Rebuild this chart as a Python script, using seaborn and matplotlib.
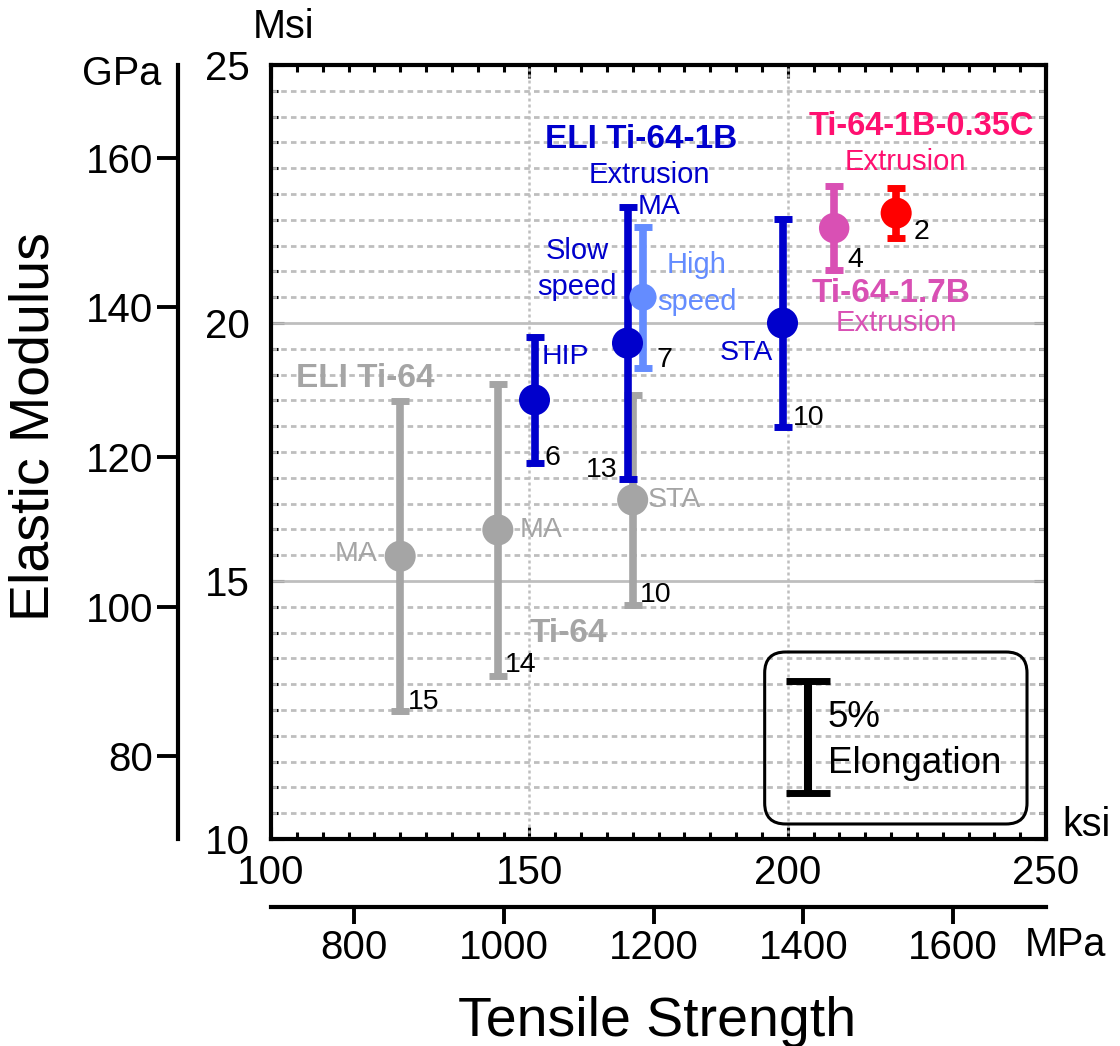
import numpy as np
import pandas as pd
import matplotlib
matplotlib.use("Agg")
import matplotlib.pyplot as plt
import seaborn as sns
from matplotlib.ticker import MultipleLocator, FixedLocator, NullLocator
from matplotlib.patches import FancyBboxPatch

# ---------------- data ----------------
alloys = ["ELI Ti-64 MA", "Ti-64 MA", "Ti-64 STA", "ELI Ti-64-1B HIP",
          "ELI Ti-64-1B MA slow", "ELI Ti-64-1B MA high", "ELI Ti-64-1B STA",
          "Ti-64-1.7B", "Ti-64-1B-0.35C"]
groups = ["Ti-64", "Ti-64", "Ti-64", "ELI Ti-64-1B", "ELI Ti-64-1B",
          "ELI Ti-64-1B high", "ELI Ti-64-1B", "Ti-64-1.7B", "Ti-64-1B-0.35C"]
strength_ksi = [125.0, 143.9, 170.0, 151.0, 169.0, 172.0, 199.0, 209.0, 221.0]
modulus_msi = [15.48, 15.99, 16.57, 18.51, 19.61, 20.50, 20.00, 21.84, 22.13]
elong_bar_msi = [3.00, 2.83, 2.04, 1.22, 2.63, 1.37, 2.02, 0.81, 0.49]
elongation_pct = [15, 14, 10, 6, 13, 7, 10, 4, 2]

x_ticks_ksi = [100, 150, 200, 250]
y_ticks_msi = [10, 15, 20, 25]
gpa_ticks = [80, 100, 120, 140, 160]
mpa_ticks = [800, 1000, 1200, 1400, 1600]

# ---------------- styles ----------------
GRAY = "#A5A5A5"
BLUE = "#0000CC"
LBLUE = "#648CFF"
MAG = "#D950B4"
RED = "#FF0000"
PINK = "#FF1070"
palette = {"Ti-64": GRAY, "ELI Ti-64-1B": BLUE, "ELI Ti-64-1B high": LBLUE,
           "Ti-64-1.7B": MAG, "Ti-64-1B-0.35C": RED}
sizes = {"Ti-64": 500, "ELI Ti-64-1B": 500, "ELI Ti-64-1B high": 380,
         "Ti-64-1.7B": 480, "Ti-64-1B-0.35C": 500}

sns.set_theme(style="ticks")
plt.rcParams["font.family"] = ["Liberation Sans", "DejaVu Sans"]
plt.rcParams["axes.unicode_minus"] = False
plt.rcParams["text.color"] = "black"
plt.rcParams["xtick.color"] = "black"
plt.rcParams["ytick.color"] = "black"
plt.rcParams["xtick.labelcolor"] = "black"
plt.rcParams["ytick.labelcolor"] = "black"
plt.rcParams["axes.edgecolor"] = "black"

df = pd.DataFrame({"alloy": alloys, "group": groups, "ksi": strength_ksi,
                   "msi": modulus_msi, "err": elong_bar_msi, "el": elongation_pct})

W, H = 1120, 1046
fig = plt.figure(figsize=(W / 100, H / 100), dpi=100)
fig.patch.set_facecolor("white")
L, R, T, B = 271, 1046, 65, 839
ax = fig.add_axes([L / W, 1 - B / H, (R - L) / W, (B - T) / H])
ax.set_facecolor("white")
ax.set_xlim(100, 250)
ax.set_ylim(10, 25)

# grid
ax.xaxis.set_major_locator(FixedLocator(x_ticks_ksi))
ax.xaxis.set_minor_locator(MultipleLocator(5))
ax.yaxis.set_major_locator(FixedLocator(y_ticks_msi))
ax.yaxis.set_minor_locator(MultipleLocator(0.5))
gcol = "#BEBEBE"
for v in np.arange(10.5, 25, 0.5):
    if abs(v - round(v / 5) * 5) < 1e-6:
        continue
    ax.axhline(v, color=gcol, lw=2.0, ls=(0, (2, 1.5)), zorder=1)
for v in [15, 20]:
    ax.axhline(v, color=gcol, lw=2.0, ls="-", zorder=1)
for v in [150, 200]:
    ax.axvline(v, color=gcol, lw=1.8, ls=(0, (1.2, 1.2)), zorder=1)

# error bars (elongation)
color_list = [palette[g] for g in groups]
for xi, yi, ei, c in zip(df["ksi"], df["msi"], df["err"], color_list):
    ax.errorbar(xi, yi, yerr=ei, fmt="none", ecolor=c, elinewidth=5.5,
                capsize=6.5, capthick=5.0, zorder=3)

# markers
sns.scatterplot(data=df, x="ksi", y="msi", hue="group", palette=palette,
                size="group", sizes=sizes, legend=False, linewidth=0,
                ax=ax, zorder=4)

# annotations
ann = [
    ("ELI Ti-64", 118.2, 18.93, GRAY, "bold", "center", "center", 24),
    ("MA", 116.5, 15.52, GRAY, "normal", "center", "center", 20.5),
    ("15", 126.4, 12.66, "black", "normal", "left", "center", 20.5),
    ("MA", 148.2, 15.99, GRAY, "normal", "left", "center", 20.5),
    ("14", 145.3, 13.37, "black", "normal", "left", "center", 20.5),
    ("Ti-64", 150.1, 13.99, GRAY, "bold", "left", "center", 24),
    ("STA", 173.0, 16.57, GRAY, "normal", "left", "center", 20.5),
    ("10", 171.4, 14.73, "black", "normal", "left", "center", 20.5),
    ("HIP", 152.4, 19.34, BLUE, "normal", "left", "center", 20.5),
    ("6", 153.0, 17.38, "black", "normal", "left", "center", 20.5),
    ("13", 167.0, 17.15, "black", "normal", "right", "center", 20.5),
    ("7", 174.7, 19.28, "black", "normal", "left", "center", 20.5),
    ("ELI Ti-64-1B", 171.6, 23.55, BLUE, "bold", "center", "center", 24),
    ("Extrusion", 173.3, 22.87, BLUE, "normal", "center", "center", 21),
    ("MA", 171.0, 22.25, BLUE, "normal", "left", "center", 20.5),
    ("Slow", 159.2, 21.24, BLUE, "normal", "center", "baseline", 21),
    ("speed", 159.2, 20.54, BLUE, "normal", "center", "baseline", 21),
    ("High", 182.4, 20.97, LBLUE, "normal", "center", "baseline", 21),
    ("speed", 182.4, 20.25, LBLUE, "normal", "center", "baseline", 21),
    ("STA", 191.9, 19.42, BLUE, "normal", "center", "center", 20.5),
    ("10", 201.0, 18.16, "black", "normal", "left", "center", 20.5),
    ("Ti-64-1B-0.35C", 225.8, 23.80, PINK, "bold", "center", "center", 23.5),
    ("Extrusion", 222.7, 23.12, PINK, "normal", "center", "center", 21),
    ("2", 224.3, 21.76, "black", "normal", "left", "center", 20.5),
    ("4", 211.5, 21.22, "black", "normal", "left", "center", 20.5),
    ("Ti-64-1.7B", 220.0, 20.58, MAG, "bold", "center", "center", 24),
    ("Extrusion", 221.0, 20.00, MAG, "normal", "center", "center", 21),
]
for t, x, y, c, w, ha, va, s in ann:
    ax.text(x, y, t, color=c, fontweight=w, ha=ha, va=va, fontsize=s, zorder=5)

# legend box
box = FancyBboxPatch((0.637, 0.0194), 0.9755 - 0.637, 0.2416 - 0.0194,
                     boxstyle="round,pad=0,rounding_size=0.027",
                     transform=ax.transAxes, fill=False, ec="black", lw=2.2,
                     zorder=5)
ax.add_patch(box)
ax.errorbar(203.9, 11.98, yerr=1.085, fmt="none", ecolor="black",
            elinewidth=5.8, capsize=16, capthick=5.0, zorder=6)
ax.text(207.8, 12.17, "5%", fontsize=26.5, ha="left", va="baseline", zorder=6)
ax.text(207.8, 11.28, "Elongation", fontsize=26.5, ha="left", va="baseline", zorder=6)

# main axis styling
for s in ax.spines.values():
    s.set_visible(True)
    s.set_linewidth(3.0)
    s.set_color("black")
ax.tick_params(axis="both", which="both", direction="in", top=True, right=True,
               color="black", width=2.2)
ax.tick_params(axis="both", which="major", length=9)
ax.tick_params(axis="both", which="minor", length=5)
ax.tick_params(axis="x", which="major", labelsize=29, pad=11, labelcolor="black")
ax.tick_params(axis="y", which="major", labelsize=29, pad=15, labelcolor="black")
ax.set_xticklabels([str(v) for v in x_ticks_ksi])
ax.set_yticklabels([str(v) for v in y_ticks_msi])
ax.set_xlabel("")
ax.set_ylabel("")
ax.grid(False)

# secondary GPa axis
CONV = 6.894757
gpa = ax.secondary_yaxis(-(L - 178) / (R - L), functions=(lambda m: m * CONV, lambda g: g / CONV))
gpa.yaxis.set_major_locator(FixedLocator(gpa_ticks))
gpa.yaxis.set_minor_locator(NullLocator())
gpa.tick_params(direction="out", length=15, width=2.8, labelsize=29, pad=3,
                color="black", labelcolor="black")
gpa.spines["left"].set_linewidth(3.0)
gpa.spines["left"].set_color("black")

# secondary MPa axis
mpa = ax.secondary_xaxis(-(907 - B) / (B - T), functions=(lambda k: k * CONV, lambda m: m / CONV))
mpa.xaxis.set_major_locator(FixedLocator(mpa_ticks))
mpa.xaxis.set_minor_locator(NullLocator())
mpa.tick_params(direction="out", length=12, width=2.8, labelsize=29, pad=4,
                color="black", labelcolor="black")
mpa.spines["bottom"].set_linewidth(3.0)
mpa.spines["bottom"].set_color("black")

# unit labels and axis titles
fig.text(253 / W, 1 - 27 / H, "Msi", fontsize=28.5, ha="left", va="center", color="black")
fig.text(82 / W, 1 - 74 / H, "GPa", fontsize=28.5, ha="left", va="center", color="black")
fig.text(1062 / W, 1 - 825 / H, "ksi", fontsize=28.5, ha="left", va="center", color="black")
fig.text(1025 / W, 1 - 945 / H, "MPa", fontsize=28.5, ha="left", va="center", color="black")
fig.text(657 / W, 1 - 1036 / H, "Tensile Strength", fontsize=40, ha="center", va="baseline", color="black")
fig.text(35 / W, 1 - 427 / H, "Elastic Modulus", fontsize=40, ha="center", va="center", rotation=90, color="black")

fig.savefig("out.png", dpi=100, facecolor="white")
